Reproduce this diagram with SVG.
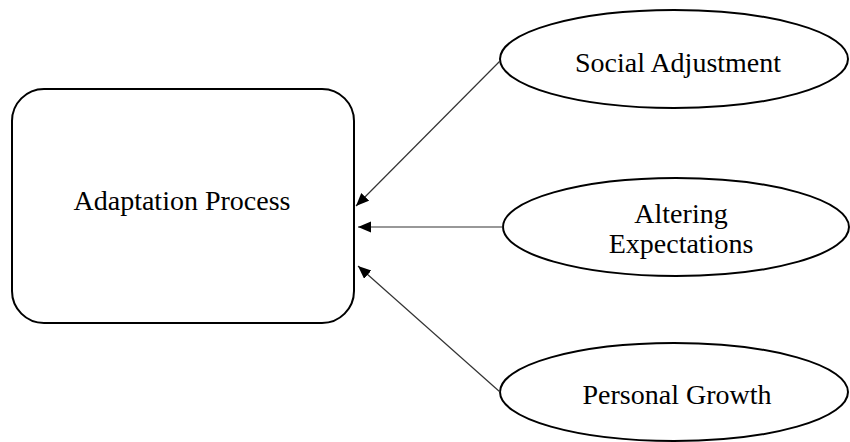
<svg xmlns="http://www.w3.org/2000/svg" width="850" height="442" viewBox="0 0 850 442">
  <style>
    .shape { fill: #ffffff; stroke: #000000; stroke-width: 2; }
    .label { font-family: "Liberation Serif", "Times New Roman", serif; font-size: 28px; fill: #000000; text-anchor: middle; }
    .conn { stroke: #333333; stroke-width: 1.2; fill: none; marker-end: url(#arrow); }
  </style>
  <defs>
    <marker id="arrow" markerUnits="userSpaceOnUse" markerWidth="14" markerHeight="12" refX="13" refY="5.5" orient="auto">
      <path d="M0,0 L13,5.5 L0,11 z" fill="#000000"/>
    </marker>
  </defs>
  <rect width="850" height="442" fill="#ffffff"/>
  <g id="adaptation-process">
    <rect class="shape" x="12" y="89" width="342" height="234" rx="32" ry="32"/>
    <text class="label" x="182" y="210">Adaptation Process</text>
  </g>
  <g id="social-adjustment">
    <ellipse class="shape" cx="674" cy="59" rx="174" ry="49"/>
    <text class="label" x="678" y="72">Social Adjustment</text>
  </g>
  <g id="altering-expectations">
    <ellipse class="shape" cx="676" cy="227" rx="173" ry="49"/>
    <text class="label" x="681" y="223">Altering</text>
    <text class="label" x="681" y="253">Expectations</text>
  </g>
  <g id="personal-growth">
    <ellipse class="shape" cx="674" cy="392" rx="174" ry="49"/>
    <text class="label" x="677" y="404">Personal Growth</text>
  </g>
  <g id="connectors">
    <line class="conn" x1="500" y1="61" x2="356" y2="206"/>
    <line class="conn" x1="503" y1="227" x2="358" y2="227"/>
    <line class="conn" x1="500" y1="392" x2="358" y2="266"/>
  </g>
</svg>
